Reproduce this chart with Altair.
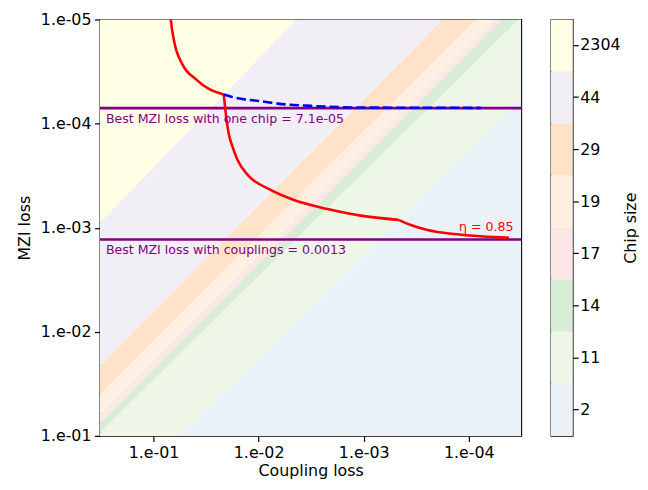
import altair as alt
import pandas as pd

# ---------------- data ----------------
x_domain = [3.162e-5, 0.3236]   # coupling loss (reversed axis)
y_domain = [1e-5, 1e-1]         # MZI loss (reversed axis)
x_ticks = [1e-1, 1e-2, 1e-3, 1e-4]
y_ticks = [1e-5, 1e-4, 1e-3, 1e-2, 1e-1]

chip_sizes = ['2304', '44', '29', '19', '17', '14', '11', '2']
chip_colors = ['#FFFFE6', '#F2EEF6', '#FEE3C9', '#FEF0E1',
               '#FDE6E6', '#D8EDD5', '#EEF6E7', '#EAF2F8']

# band boundaries: MZI loss of the upper edge of each band at the two coupling edges
edge_coupling = [0.3236, 3.162e-5]
band_top_left = [1e-9, 8.97e-4, 0.0211, 0.0402, 0.0619, 0.0750, 0.0931, 0.561]
band_top_right = [1e-9, 5.75e-8, 1.746e-6, 3.67e-6, 5.68e-6, 6.58e-6, 9.48e-6, 5.77e-5]
band_bot_left = band_top_left[1:] + [10.0]
band_bot_right = band_top_right[1:] + [10.0]

# red curve (eta = 0.85), three smooth pieces joined at kinks
red_coupling_a = [0.0692, 0.0684, 0.0637, 0.0531, 0.0397, 0.0298, 0.0215]
red_mzi_a = [8.8e-6, 1.016e-5, 1.62e-5, 2.70e-5, 3.74e-5, 4.65e-5, 5.25e-5]
red_coupling_b = [0.0215, 0.0211, 0.0204, 0.0193, 0.0178, 0.0160, 0.01253, 0.00811,
                  0.00455, 0.00221, 0.00107, 4.67e-4]
red_mzi_b = [5.25e-5, 6.2e-5, 8.5e-5, 1.236e-4, 1.65e-4, 2.2e-4, 3.16e-4, 4.22e-4,
             5.45e-4, 6.62e-4, 7.66e-4, 8.41e-4]
red_coupling_c = [4.67e-4, 3.62e-4, 2.53e-4, 1.225e-4, 4.14e-5]
red_mzi_c = [8.41e-4, 9.37e-4, 1.045e-3, 1.164e-3, 1.25e-3]

# blue dashed curve
blue_coupling = [0.0215, 0.0167, 0.00935, 0.00653, 0.00317, 0.00107, 7.67e-5]
blue_mzi = [5.25e-5, 5.65e-5, 6.11e-5, 6.43e-5, 6.76e-5, 7.01e-5, 7.06e-5]

best_one_chip = 7.1e-5
best_couplings = 0.0013
label_one_chip = 'Best MZI loss with one chip = 7.1e-05'
label_couplings = 'Best MZI loss with couplings = 0.0013'
label_eta = 'η = 0.85'

# ---------------- frames ----------------
band_rows = []
for i, chip in enumerate(chip_sizes):
    band_rows.append({'chip': chip, 'coupling': edge_coupling[0],
                      'top': band_top_left[i], 'bot': band_bot_left[i]})
    band_rows.append({'chip': chip, 'coupling': edge_coupling[1],
                      'top': band_top_right[i], 'bot': band_bot_right[i]})
bands_df = pd.DataFrame(band_rows)

red_rows = []
for seg, (cs, ms) in enumerate([(red_coupling_a, red_mzi_a),
                                (red_coupling_b, red_mzi_b),
                                (red_coupling_c, red_mzi_c)]):
    for k, (c, m) in enumerate(zip(cs, ms)):
        red_rows.append({'seg': seg, 'i': k, 'coupling': c, 'mzi': m})
red_df = pd.DataFrame(red_rows)
blue_df = pd.DataFrame({'coupling': blue_coupling, 'mzi': blue_mzi,
                        'i': range(len(blue_mzi))})
rules_df = pd.DataFrame({'mzi': [best_one_chip, best_couplings]})
cb_df = pd.DataFrame({'chip': chip_sizes})

FONT = 'DejaVu Sans'
label_expr = "'1.e-0' + round(-log(datum.value)/LN10)"

xscale = alt.Scale(type='log', domain=x_domain, reverse=True, nice=False)
yscale = alt.Scale(type='log', domain=y_domain, reverse=True, nice=False)

xaxis = alt.Axis(values=x_ticks, labelExpr=label_expr, title='Coupling loss',
                 grid=False, domain=False, labelPadding=3, titlePadding=2,
                 labelFlush=False, labelOverlap=False)
yaxis = alt.Axis(values=y_ticks, labelExpr=label_expr, title='MZI loss',
                 grid=False, domain=False, labelPadding=3.5, titlePadding=8,
                 labelFlush=False, labelOverlap=False)

color_scale = alt.Scale(domain=chip_sizes, range=chip_colors)

bands = alt.Chart(bands_df).mark_area(clip=True, interpolate='linear').encode(
    x=alt.X('coupling:Q', scale=xscale, axis=xaxis),
    y=alt.Y('top:Q', scale=yscale, axis=yaxis, stack=None),
    y2='bot:Q',
    color=alt.Color('chip:N', scale=color_scale, legend=None),
    detail='chip:N',
)

rules = alt.Chart(rules_df).mark_rule(color='#800080', strokeWidth=2.6).encode(
    y=alt.Y('mzi:Q', scale=yscale)
)

red_line = alt.Chart(red_df).mark_line(color='#FF0000', strokeWidth=2.6, clip=True,
                                       interpolate='monotone').encode(
    x=alt.X('coupling:Q', scale=xscale),
    y=alt.Y('mzi:Q', scale=yscale),
    detail='seg:N',
    order='i:Q',
)

blue_line = alt.Chart(blue_df).mark_line(color='#0000FF', strokeWidth=2.6,
                                         strokeDash=[9.5, 4], clip=True,
                                         interpolate='monotone').encode(
    x=alt.X('coupling:Q', scale=xscale),
    y=alt.Y('mzi:Q', scale=yscale),
    order='i:Q',
)

text1 = alt.Chart().mark_text(align='left', baseline='top', dy=5, font=FONT,
                              fontSize=12.7, color='#800080', text=label_one_chip).encode(
    x=alt.value(6), y=alt.Y(datum=best_one_chip, scale=yscale)
)
text2 = alt.Chart().mark_text(align='left', baseline='top', dy=5, font=FONT,
                              fontSize=12.7, color='#800080', text=label_couplings).encode(
    x=alt.value(6), y=alt.Y(datum=best_couplings, scale=yscale)
)
text3 = alt.Chart().mark_text(align='right', baseline='alphabetic', dy=-9, font=FONT,
                              fontSize=12.7, color='#FF0000', text=label_eta).encode(
    x=alt.value(418), y=alt.Y(datum=best_couplings, scale=yscale)
)

PLOT_H = 421

main = alt.layer(bands, rules, red_line, blue_line, text1, text2, text3).properties(
    width=426, height=PLOT_H
)

colorbar = alt.Chart(cb_df).mark_rect().encode(
    y=alt.Y('chip:N', sort=chip_sizes,
            scale=alt.Scale(paddingInner=0, paddingOuter=0),
            axis=alt.Axis(orient='right', title='Chip size', titleAngle=270,
                          domain=False, labelPadding=1.5, titlePadding=19,
                          labelAngle=0)),
    color=alt.Color('chip:N', scale=color_scale, legend=None),
).properties(width=22, height=PLOT_H)

chart = alt.hconcat(main, colorbar, spacing=27).properties(
    padding={'left': 8, 'top': 0, 'right': 0, 'bottom': 0}
).configure_view(
    stroke='black', strokeWidth=1.3
).configure_axis(
    labelFont=FONT, titleFont=FONT, labelFontSize=16, titleFontSize=16,
    labelColor='black', titleColor='black', tickColor='black',
    tickSize=5.6, tickWidth=1.2, titleFontWeight='normal'
)

chart.save('out.html', embed_options={'renderer': 'svg', 'actions': False})
